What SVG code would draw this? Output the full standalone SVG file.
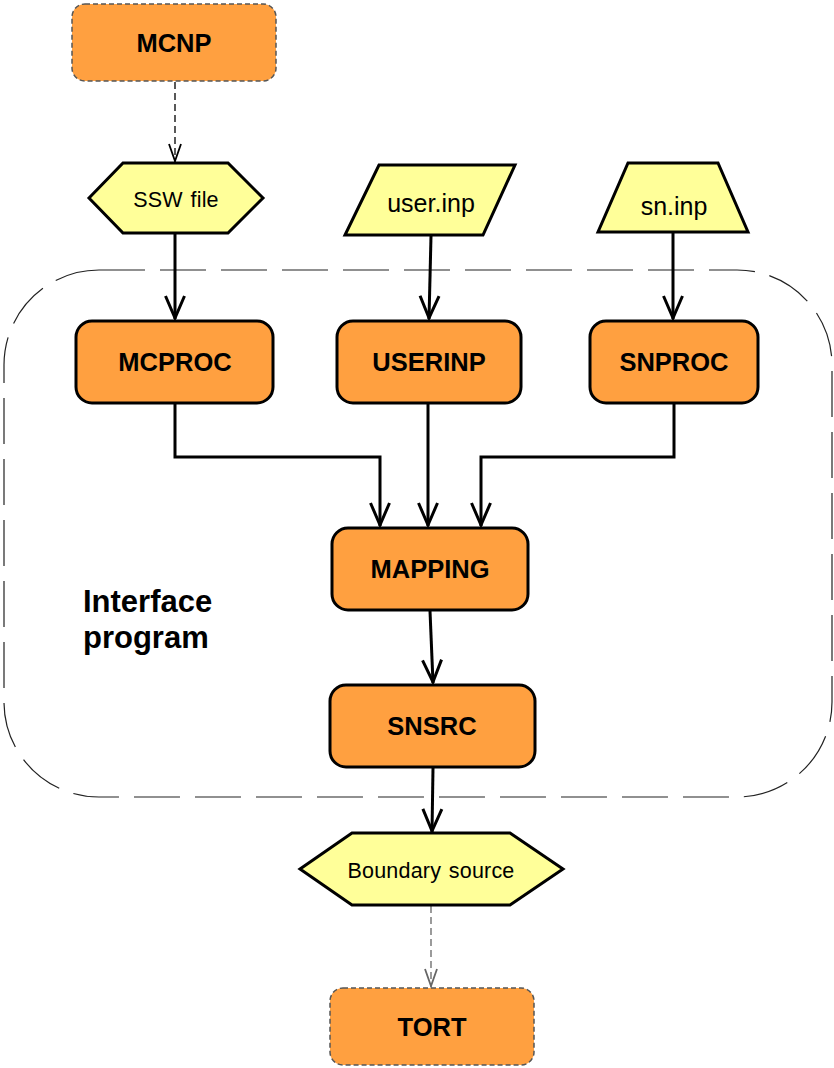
<svg xmlns="http://www.w3.org/2000/svg" width="834" height="1068" viewBox="0 0 834 1068">
<defs>
<style>
.proc{fill:#FFA040;stroke:#000;stroke-width:3}
.ext{fill:#FFA040;stroke:#555;stroke-width:1.5;stroke-dasharray:5 3}
.data{fill:#FFFF99;stroke:#000;stroke-width:3;stroke-linejoin:miter}
.bl{font-family:"Liberation Sans",Arial,sans-serif;font-weight:bold;font-size:25.5px;fill:#000;text-anchor:middle}
.rl{font-family:"Liberation Sans",Arial,sans-serif;font-size:25px;fill:#000;text-anchor:middle}
.sm{font-family:"Liberation Sans",Arial,sans-serif;font-size:21.5px;letter-spacing:0.2px;word-spacing:1.5px;fill:#000;text-anchor:middle}
.edge{fill:none;stroke:#000;stroke-width:3;marker-end:url(#arr)}
.dedge{fill:none;stroke-width:1.3;stroke-dasharray:7 4;marker-end:url(#darr)}
</style>
<marker id="arr" markerUnits="userSpaceOnUse" markerWidth="34" markerHeight="26" refX="25" refY="12" orient="auto" overflow="visible">
<path d="M2,2.5 L24,12 L2,21.5" fill="none" stroke="#000" stroke-width="3" stroke-linejoin="miter"/>
</marker>
<marker id="darr" markerUnits="userSpaceOnUse" markerWidth="26" markerHeight="18" refX="20" refY="8" orient="auto" overflow="visible">
<path d="M2,2 L19,8 L2,14" fill="none" stroke="context-stroke" stroke-width="1.8"/>
</marker>
</defs>
<g id="interface-boundary">
<rect x="4" y="270" width="828" height="527" rx="95" ry="95" fill="none" stroke="#222" stroke-width="1.2" stroke-dasharray="46 15"/>
<text x="83" y="612" font-family="'Liberation Sans',Arial,sans-serif" font-weight="bold" font-size="31" fill="#000">Interface</text>
<text x="83" y="648" font-family="'Liberation Sans',Arial,sans-serif" font-weight="bold" font-size="31" fill="#000">program</text>
</g>
<g id="connectors">
<line class="dedge" stroke="#000" x1="175" y1="82" x2="175" y2="162"/>
<line class="edge" x1="175" y1="234" x2="175" y2="319"/>
<line class="edge" x1="431" y1="236" x2="429" y2="319"/>
<line class="edge" x1="673" y1="233" x2="673" y2="319"/>
<polyline class="edge" points="175,404 175,457 380,457 380,526"/>
<line class="edge" x1="428" y1="404" x2="428" y2="526"/>
<polyline class="edge" points="674,404 674,457 481,457 481,526"/>
<line class="edge" x1="430" y1="611" x2="433" y2="683"/>
<line class="edge" x1="433" y1="768" x2="432" y2="832"/>
<line class="dedge" stroke="#666" x1="431" y1="906" x2="431" y2="987"/>
</g>
<g id="MCNP">
<rect class="ext" x="72" y="4" width="204" height="77" rx="13"/>
<text class="bl" x="174" y="52">MCNP</text>
</g>
<g id="SSW-file">
<polygon class="data" points="89,198 123,163 228,163 263,198 228,233 123,233"/>
<text class="sm" x="176" y="207">SSW file</text>
</g>
<g id="user-inp">
<polygon class="data" points="379,165 515,165 483,235 345,235"/>
<text class="rl" x="431" y="212">user.inp</text>
</g>
<g id="sn-inp">
<polygon class="data" points="628,163 718,163 748,232 598,232"/>
<text class="rl" x="674" y="215">sn.inp</text>
</g>
<g id="MCPROC">
<rect class="proc" x="76" y="321" width="197" height="82" rx="16"/>
<text class="bl" x="175" y="371">MCPROC</text>
</g>
<g id="USERINP">
<rect class="proc" x="337" y="321" width="184" height="82" rx="16"/>
<text class="bl" x="429" y="371">USERINP</text>
</g>
<g id="SNPROC">
<rect class="proc" x="590" y="321" width="168" height="82" rx="16"/>
<text class="bl" x="674" y="371">SNPROC</text>
</g>
<g id="MAPPING">
<rect class="proc" x="332" y="528" width="196" height="82" rx="16"/>
<text class="bl" x="430" y="578">MAPPING</text>
</g>
<g id="SNSRC">
<rect class="proc" x="330" y="685" width="205" height="82" rx="16"/>
<text class="bl" x="432" y="735">SNSRC</text>
</g>
<g id="Boundary-source">
<polygon class="data" points="300,869 352,833 510,833 563,869 510,905 352,905"/>
<text class="sm" x="431" y="878">Boundary source</text>
</g>
<g id="TORT">
<rect class="ext" x="330" y="988" width="204" height="77" rx="13"/>
<text class="bl" x="432" y="1036">TORT</text>
</g>
</svg>
